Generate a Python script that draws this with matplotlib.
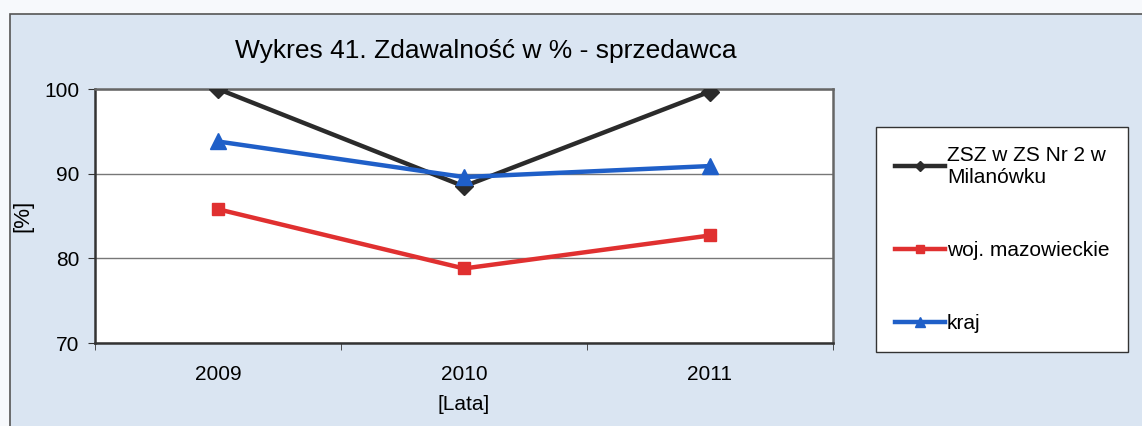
import numpy as np
import matplotlib.pyplot as plt
from matplotlib.patches import Rectangle

plt.rcParams['font.family'] = ['Liberation Sans', 'DejaVu Sans']

years = ['2009', '2010', '2011']
zsz = [100.0, 88.5, 99.7]
woj = [85.8, 78.8, 82.7]
kraj = [93.8, 89.6, 90.9]

labels = ['ZSZ w ZS Nr 2 w\nMilanówku', 'woj. mazowieckie', 'kraj']
bg = '#dae5f2'

fig = plt.figure(figsize=(11.42, 4.26), dpi=100)
fig.patch.set_facecolor('#f7f9fc')

# chart frame behind everything
fig.patches.append(Rectangle((10 / 1142, -0.01), 1.0, 1.01 - 14 / 426, transform=fig.transFigure,
                             facecolor=bg, edgecolor='#555555', linewidth=1.2, zorder=-10))

ax = fig.add_axes([95 / 1142, 83 / 426, 738 / 1142, 254 / 426])
ax.set_facecolor('white')

x = np.arange(len(years))
ax.plot(x, zsz, color='#2b2b2b', lw=3.2, marker='D', ms=9, label=labels[0], zorder=3)
ax.plot(x, woj, color='#e03030', lw=3.2, marker='s', ms=9, label=labels[1], zorder=3)
ax.plot(x, kraj, color='#1f5fc8', lw=3.2, marker='^', ms=12, label=labels[2], zorder=4)

ax.set_xlim(-0.5, 2.5)
ax.set_ylim(70, 100)
ax.set_yticks([70, 80, 90, 100])
ax.set_xticks(x)
ax.set_xticklabels(years)
ax.set_xticks([-0.5, 0.5, 1.5, 2.5], minor=True)
ax.tick_params(axis='x', which='major', length=0, pad=16, labelsize=15)
ax.tick_params(axis='x', which='minor', length=5, direction='out', color='#333333')
ax.tick_params(axis='y', length=5, direction='out', labelsize=15, pad=6, color='#333333')
ax.yaxis.grid(True, color='#777777', lw=1)
ax.set_axisbelow(True)

for side in ['left', 'bottom']:
    ax.spines[side].set_color('#333333')
    ax.spines[side].set_linewidth(1.8)
for side in ['top', 'right']:
    ax.spines[side].set_color('#666666')
    ax.spines[side].set_linewidth(1.8)

ax.set_ylabel('[%]', fontsize=16, labelpad=8)
ax.set_xlabel('[Lata]', fontsize=15, labelpad=8)
ax.set_title('Wykres 41. Zdawalność w % - sprzedawca', fontsize=19, pad=22, x=0.53)

leg = fig.legend(loc='upper left', bbox_to_anchor=(876 / 1142, 1 - 127 / 426),
                 borderaxespad=0, frameon=True, fancybox=False, fontsize=15,
                 handlelength=2.4, handletextpad=0.1, labelspacing=2.6, borderpad=0.9,
                 markerscale=0.6)
leg.get_frame().set_edgecolor('#333333')
leg.get_frame().set_facecolor('white')
leg.get_frame().set_alpha(1)
leg.get_frame().set_linewidth(1)

fig.savefig('out.png', dpi=100, facecolor=fig.get_facecolor())
